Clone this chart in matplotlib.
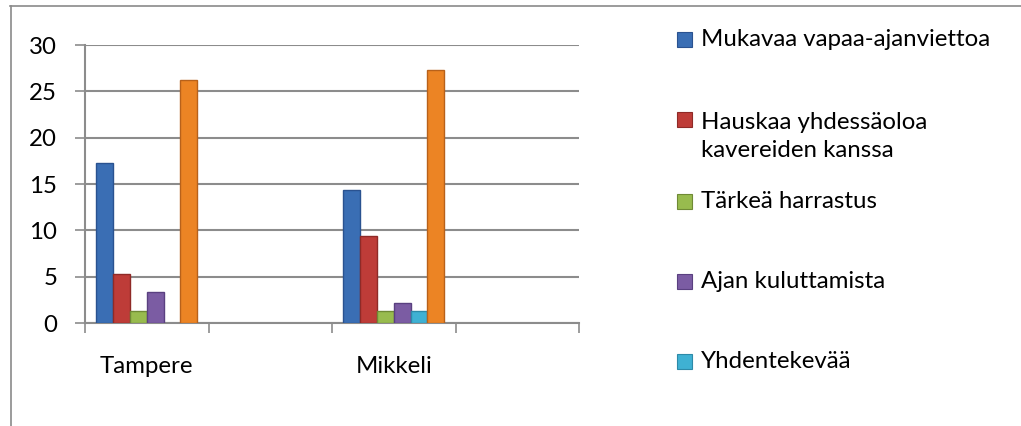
import numpy as np
import matplotlib
matplotlib.use("Agg")
import matplotlib.pyplot as plt
from matplotlib.patches import Rectangle
from matplotlib.lines import Line2D

plt.rcParams['font.family'] = ['Lato', 'DejaVu Sans']

categories = ["Tampere", "", "Mikkeli", ""]
series = ["Mukavaa vapaa-ajanviettoa",
          "Hauskaa yhdessäoloa\nkavereiden kanssa",
          "Tärkeä harrastus",
          "Ajan kuluttamista",
          "Yhdentekevää",
          ""]  # sixth series: its legend entry is cut off in the original
tampere = [17.3, 5.3, 1.3, 3.3, 0.0, 26.2]
mikkeli = [14.3, 9.35, 1.3, 2.2, 1.3, 27.3]
colors = ["#3a6eb4", "#be3c38", "#98bb4e", "#7b5ca3", "#3fb1d3", "#ec8424"]
edges = ["#2a5290", "#8f2a27", "#6f8a35", "#5a4080", "#2d8aa8", "#b8611a"]
yticks = [0, 5, 10, 15, 20, 25, 30]

W, H = 1021, 426
FS = 17.3
fig = plt.figure(figsize=(W / 100, H / 100), dpi=100)

# outer chart border (left and top visible only)
fig.add_artist(Line2D([10.5 / W, 10.5 / W], [0, 1 - 6 / H], color="#8a8a8a", lw=1.2))
fig.add_artist(Line2D([10 / W, 1], [1 - 6 / H, 1 - 6 / H], color="#8a8a8a", lw=1.2))

ax = fig.add_axes([85 / W, (H - 323) / H, (579 - 85) / W, (323 - 45) / H])

values = np.array([tampere, [0] * 6, mikkeli, [0] * 6])
x = np.arange(len(categories))
w = 0.136
for i in range(len(series)):
    keep = values[:, i] > 0
    ax.bar(x[keep] + (i - 2.5) * w, values[keep, i], width=w, color=colors[i],
           edgecolor=edges[i], linewidth=1.0, zorder=3)

ax.set_xlim(-0.5, len(categories) - 0.5)
ax.set_ylim(0, 30)
ax.set_yticks(yticks)
ax.set_yticklabels([str(t) for t in yticks], fontsize=FS, color="#000000")
ax.yaxis.grid(True, color="#8c8c8c", lw=1.5, zorder=0)
ax.tick_params(axis="y", length=7, width=1.2, color="#8c8c8c", pad=13)

ax.set_xticks(np.arange(-0.5, len(categories)), labels=[])
ax.set_xticks(x, labels=categories, minor=True)
ax.tick_params(axis="x", which="major", length=7, width=1.2, color="#8c8c8c", direction="out")
ax.tick_params(axis="x", which="minor", length=0, labelsize=FS, pad=24)

for s in ["top", "right"]:
    ax.spines[s].set_visible(False)
for s in ["left", "bottom"]:
    ax.spines[s].set_color("#8c8c8c")
    ax.spines[s].set_linewidth(1.5)

# legend, drawn by hand; only the first five entries fit in the picture
legend_text_y = [40, 136.5, 202, 282, 362]
legend_mark_y = [40, 120, 202, 282, 362]
for i in range(5):
    ym = legend_mark_y[i]
    fig.add_artist(Rectangle((677 / W, 1 - (ym + 7) / H), 15 / W, 15 / H,
                             facecolor=colors[i], edgecolor=edges[i], lw=0.8))
    fig.text(701 / W, 1 - legend_text_y[i] / H, series[i], fontsize=FS,
             va="center", ha="left", linespacing=1.45)

fig.savefig("out.png", dpi=100)
